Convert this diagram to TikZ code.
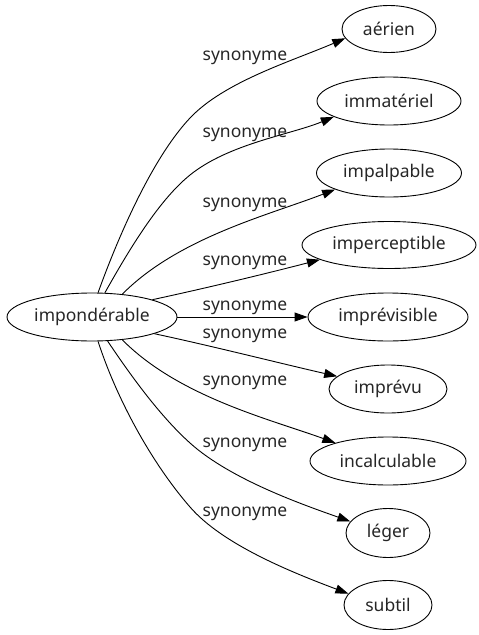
\documentclass[tikz,border=0pt]{standalone}
\usepackage{fontspec}
\setmainfont{Noto Sans}
\usetikzlibrary{shapes.geometric,arrows.meta}
\begin{document}
\begin{tikzpicture}[x=1pt,y=-1pt,
  every node/.style={font=\fontsize{17.5}{20}\selectfont, text=black!85},
  word/.style={ellipse, draw, line width=0.9pt, inner sep=0pt, minimum height=48pt},
  rel/.style={line width=0.9pt, -{Triangle[length=13pt,width=9pt]}},
  lab/.style={inner sep=0pt}]
\useasboundingbox (0,0) rectangle (479,635);
\node[word, minimum width=170pt] (s) at (92,317) {impondérable};
\node[word, minimum width=94pt, minimum height=47pt] (t1) at (389,29) {aérien};
\node[word, minimum width=144pt] (t2) at (389,101) {immatériel};
\node[word, minimum width=145pt] (t3) at (389,173) {impalpable};
\node[word, minimum width=174pt, minimum height=47pt] (t4) at (389,245) {imperceptible};
\node[word, minimum width=160pt] (t5) at (388,317) {imprévisible};
\node[word, minimum width=118pt] (t6) at (388,389) {imprévu};
\node[word, minimum width=156pt] (t7) at (388,461) {incalculable};
\node[word, minimum width=84pt, minimum height=49pt] (t8) at (388,533) {léger};
\node[word, minimum width=88pt, minimum height=49pt] (t9) at (388,605) {subtil};

\coordinate (v1) at (190,118);
\coordinate (v2) at (190,175);
\coordinate (v8) at (190,443);
\coordinate (v9) at (190,507);

\draw[rel] (s.76) .. controls (118.3,236.5) and (152.3,158) .. (v1)
  .. controls (224.3,81.6) and (292.6,60.9) .. (t1.192);
\draw[rel] (s.62) .. controls (129.3,249.3) and (158.9,200.1) .. (v2)
  .. controls (228.9,143.6) and (291.5,134.4) .. (t2.196);
\draw[rel] (s.37.5) .. controls (178.6,237.4) and (269.5,214.9) .. (t3.197.5);
\draw[rel] (s.16.3) .. controls (211,287) and (268.6,273) .. (t4.192.6);
\draw[rel] (s.east) -- (t5.west);
\draw[rel] (s.-15.3) .. controls (212,346) and (283,364) .. (t6.166.8);
\draw[rel] (s.-37.5) .. controls (178.6,396.6) and (269.5,419.1) .. (t7.161.9);
\draw[rel] (s.-57) .. controls (132,377.4) and (160.3,416.2) .. (v8)
  .. controls (230.9,479.8) and (304,505) .. (t8.163.4);
\draw[rel] (s.-76) .. controls (116,397) and (150.6,461.7) .. (v9)
  .. controls (222.8,544.8) and (292,572.4) .. (t9.164.6);

\node[lab] (l1) at (245,58) {synonyme};
\node[lab] (l2) at (245,135) {synonyme};
\node[lab] (l3) at (245,205) {synonyme};
\node[lab] (l4) at (245,263) {synonyme};
\node[lab] (l5) at (245,308) {synonyme};
\node[lab] (l6) at (245,336) {synonyme};
\node[lab] (l7) at (245,383) {synonyme};
\node[lab] (l8) at (245,445) {synonyme};
\node[lab] (l9) at (245,514) {synonyme};
\end{tikzpicture}
\end{document}
